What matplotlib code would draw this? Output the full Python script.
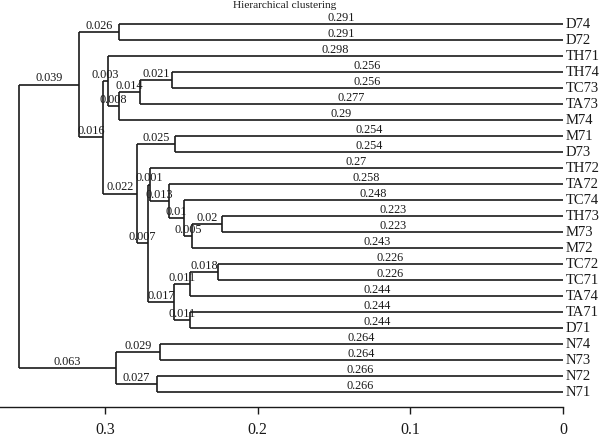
import matplotlib
matplotlib.use("Agg")
import matplotlib.pyplot as plt

plt.rcParams['font.family'] = ['Liberation Serif', 'DejaVu Serif']

# leaf order, top to bottom
leaves = ["D74", "D72", "TH71", "TH74", "TC73", "TA73", "M74", "M71", "D73",
          "TH72", "TA72", "TC74", "TH73", "M73", "M72", "TC72", "TC71", "TA74",
          "TA71", "D71", "N74", "N73", "N72", "N71"]

# internal nodes: (name, children, branch lengths to children)
clusters = [
    ("n1", ["D74", "D72"], [0.291, 0.291]),
    ("G", ["TH74", "TC73"], [0.256, 0.256]),
    ("H", ["G", "TA73"], [0.021, 0.277]),
    ("F", ["H", "M74"], [0.014, 0.29]),
    ("D", ["TH71", "F"], [0.298, 0.008]),
    ("I", ["M71", "D73"], [0.254, 0.254]),
    ("P", ["TH73", "M73"], [0.223, 0.223]),
    ("Q", ["P", "M72"], [0.02, 0.243]),
    ("N", ["TC74", "Q"], [0.248, 0.005]),
    ("M", ["TA72", "N"], [0.258, 0.01]),
    ("K", ["TH72", "M"], [0.27, 0.013]),
    ("T", ["TC72", "TC71"], [0.226, 0.226]),
    ("R", ["T", "TA74"], [0.018, 0.244]),
    ("S", ["TA71", "D71"], [0.244, 0.244]),
    ("L", ["R", "S"], [0.011, 0.011]),
    ("J", ["K", "L"], [0.001, 0.017]),
    ("E", ["I", "J"], [0.025, 0.007]),
    ("C", ["D", "E"], [0.003, 0.022]),
    ("A", ["n1", "C"], [0.026, 0.016]),
    ("V", ["N74", "N73"], [0.264, 0.264]),
    ("W", ["N72", "N71"], [0.266, 0.266]),
    ("U", ["V", "W"], [0.029, 0.027]),
    ("root", ["A", "U"], [0.039, 0.063]),
]

xticks = [0.3, 0.2, 0.1, 0.0]
xticklabels = ["0.3", "0.2", "0.1", "0"]

# node heights (distance from leaves) and vertical positions
height = {name: 0.0 for name in leaves}
ypos = {name: i for i, name in enumerate(leaves)}
for name, kids, lens in clusters:
    height[name] = sum(height[k] + b for k, b in zip(kids, lens)) / len(kids)
    ypos[name] = sum(ypos[k] for k in kids) / len(kids)

fig = plt.figure(figsize=(6, 4.45), dpi=100)
ax = fig.add_axes([0, 38 / 445, 563 / 600, 407 / 445])

col = "#1a1a1a"
for name, kids, lens in clusters:
    h = height[name]
    ys = [ypos[k] for k in kids]
    ax.plot([h, h], [min(ys), max(ys)], color=col, lw=1.2, solid_capstyle="butt")
    for k, b in zip(kids, lens):
        ax.plot([h, height[k]], [ypos[k], ypos[k]], color=col, lw=1.2,
                solid_capstyle="butt")
        ax.annotate(f"{b:g}", ((h + height[k]) / 2, ypos[k]), xytext=(0, 0.3),
                    textcoords="offset points", ha="center", va="bottom",
                    fontsize=8.8, color=col)

for name in leaves:
    ax.annotate(name, (0, ypos[name]), xytext=(2, 0), textcoords="offset points",
                ha="left", va="center", fontsize=10.5, color=col,
                annotation_clip=False)

ax.set_xlim(563 / 1527, 0)
ax.set_ylim((407 - 24) / 16, -24 / 16)
for s in ["top", "right", "left"]:
    ax.spines[s].set_visible(False)
ax.spines["bottom"].set_linewidth(1.0)
ax.spines["bottom"].set_color(col)
ax.set_yticks([])
ax.set_xticks(xticks)
ax.set_xticklabels(xticklabels)
ax.tick_params(axis="x", length=5, width=1.0, pad=6, labelsize=11.5, colors=col)

fig.text(285 / 600, 1 - 1.5 / 445, "Hierarchical clustering", ha="center", va="top",
         fontsize=8.2, color=col)

plt.savefig("out.png", dpi=100)
